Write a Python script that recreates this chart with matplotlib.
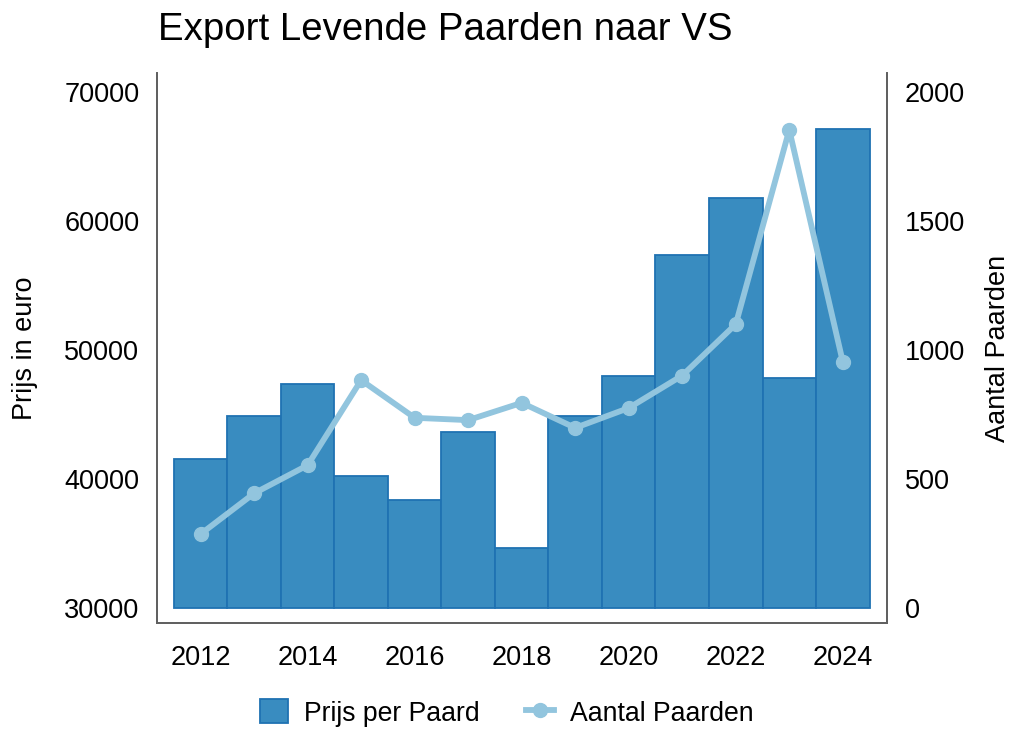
import matplotlib
matplotlib.use("Agg")
import matplotlib.pyplot as plt

plt.rcParams['font.family'] = ['Liberation Sans', 'DejaVu Sans']

# data
years = [2012, 2013, 2014, 2015, 2016, 2017, 2018, 2019, 2020, 2021, 2022, 2023, 2024]
prijs = [41550, 44870, 47350, 40190, 38360, 43660, 34640, 44870, 47970, 57350, 61800, 47810, 67150]
aantal = [285, 443, 552, 882, 736, 727, 794, 697, 774, 900, 1099, 1853, 953]

bar_color = '#398cc0'
bar_edge = '#1f72b2'
line_color = '#92c5de'
spine_color = '#606060'
fs = 19.5

fig = plt.figure(figsize=(10.13, 7.29), dpi=100)
ax = fig.add_axes([0.1547, 0.145, 0.7206, 0.7544])

bars = ax.bar(years, [p - 30000 for p in prijs], bottom=30000, width=1.0,
              color=bar_color, edgecolor=bar_edge, linewidth=1.3, label='Prijs per Paard')
ax.set_xlim(2011.18, 2024.82)
ax.set_ylim(28780, 71450)
ax.set_yticks([30000, 40000, 50000, 60000, 70000])
ax.set_xticks([2012, 2014, 2016, 2018, 2020, 2022, 2024])
ax.set_ylabel('Prijs in euro', fontsize=fs)
ax.yaxis.set_label_coords(-0.1626, 0.5)

ax2 = ax.twinx()
line, = ax2.plot(years, aantal, color=line_color, linewidth=4.2, marker='o',
                 markersize=10, label='Aantal Paarden')
ax2.set_ylim(-61, 2072)
ax2.set_yticks([0, 500, 1000, 1500, 2000])
ax2.set_ylabel('Aantal Paarden', fontsize=fs)
ax2.yaxis.set_label_coords(1.135, 0.5)

for a in (ax, ax2):
    a.spines['top'].set_visible(False)
    for s in ('left', 'right', 'bottom'):
        a.spines[s].set_color(spine_color)
        a.spines[s].set_linewidth(1.3)
    a.tick_params(length=0, labelsize=fs)
ax.tick_params(axis='y', pad=12.5)
ax.tick_params(axis='x', pad=15.5)
ax2.tick_params(axis='y', pad=13)

fig.text(158 / 1013, 1 - 40 / 729, 'Export Levende Paarden naar VS', fontsize=27.6,
         ha='left', va='baseline')

fig.legend([bars, line], ['Prijs per Paard', 'Aantal Paarden'], loc='center',
           bbox_to_anchor=(0.5, 1 - 713 / 729), ncol=2, frameon=False, fontsize=19.2,
           handlelength=1.05, handleheight=1.0, handletextpad=0.6, columnspacing=1.75)

fig.savefig('out.png', dpi=100)
